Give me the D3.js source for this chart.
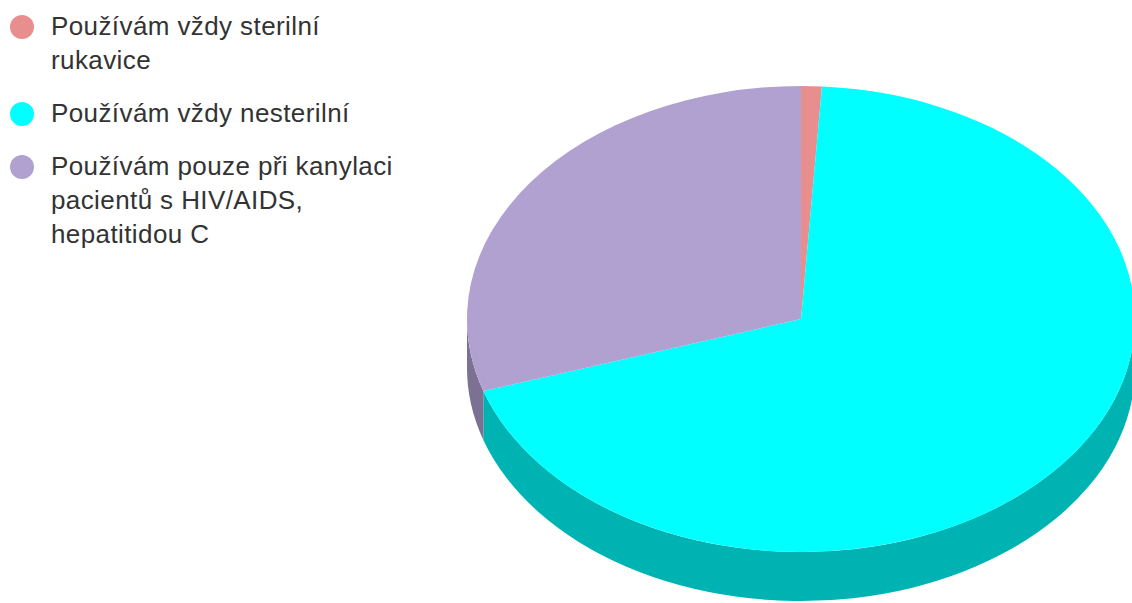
<!DOCTYPE html>
<html>
<head>
<meta charset="utf-8">
<script src="https://cdn.jsdelivr.net/npm/d3@7"></script>
<style>
  html, body { margin: 0; padding: 0; background: #fff; }
  svg { display: block; }
</style>
</head>
<body>
<svg id="chart" width="1132" height="603"></svg>
<script>
// Answers to the question about glove use during cannulation
const categories = [
  "Používám vždy sterilní rukavice",
  "Používám vždy nesterilní",
  "Používám pouze při kanylaci pacientů s HIV/AIDS, hepatitidou C"
];
// Legend text broken into lines as it is shown
const legendLines = [
  ["Používám vždy sterilní", "rukavice"],
  ["Používám vždy nesterilní"],
  ["Používám pouze při kanylaci", "pacientů s HIV/AIDS,", "hepatitidou C"]
];
const values = [1, 69, 30];
const colors = ["#e88e8e", "#00ffff", "#b1a1d1"];

const svg = d3.select("#chart");

// Tilted (3D) pie geometry
const cx = 801, cy = 319, rx = 334, ry = 233, depth = 49;

const pie = d3.pie().sort(null).value(d => d)
  .startAngle(0).endAngle(2 * Math.PI);
const arcs = pie(values);

const px = a => cx + rx * Math.sin(a);
const py = a => cy - ry * Math.cos(a);

// Path along the rim of the ellipse from angle a0 to a1 (clockwise)
function rim(a0, a1, dy) {
  const large = (a1 - a0) > Math.PI ? 1 : 0;
  return `A${rx},${ry} 0 ${large} 1 ${px(a1)},${py(a1) + dy}`;
}

// Side walls: only the front half (angles between π/2 and 3π/2) is visible
const gSide = svg.append("g");
arcs.forEach((d, i) => {
  const a0 = Math.max(d.startAngle, Math.PI / 2);
  const a1 = Math.min(d.endAngle, 3 * Math.PI / 2);
  if (a1 <= a0) return;
  const path = `M${px(a0)},${py(a0)} ${rim(a0, a1, 0)}` +
    ` L${px(a1)},${py(a1) + depth}` +
    ` A${rx},${ry} 0 ${(a1 - a0) > Math.PI ? 1 : 0} 0 ${px(a0)},${py(a0) + depth} Z`;
  gSide.append("path")
    .attr("d", path)
    .attr("fill", d3.color(colors[i]).darker(1).formatHex());
});

// Top face of each slice
const gTop = svg.append("g");
arcs.forEach((d, i) => {
  const a0 = d.startAngle, a1 = d.endAngle;
  const path = `M${cx},${cy} L${px(a0)},${py(a0)} ${rim(a0, a1, 0)} Z`;
  gTop.append("path")
    .attr("d", path)
    .attr("fill", colors[i]);
});

// Legend
const legend = svg.append("g")
  .attr("font-family", "'Liberation Sans', Arial, sans-serif")
  .attr("font-size", 26)
  .attr("letter-spacing", 0.4)
  .attr("fill", "#333");
const lineH = 34, itemGap = 19;
let y = 35;
legendLines.forEach((lines, i) => {
  legend.append("circle")
    .attr("cx", 22).attr("cy", y - 8).attr("r", 12)
    .attr("fill", colors[i]);
  const t = legend.append("text").attr("x", 51).attr("y", y);
  t.append("title").text(categories[i]);
  lines.forEach((ln, j) => {
    t.append("tspan").attr("x", 51).attr("y", y + j * lineH).text(ln);
  });
  y += lines.length * lineH + itemGap;
});
</script>
</body>
</html>
